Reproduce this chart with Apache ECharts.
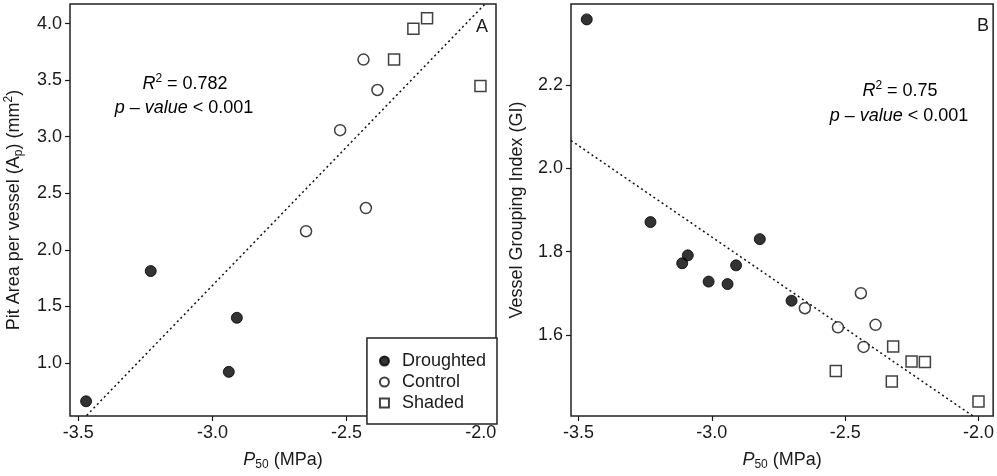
<!DOCTYPE html>
<html>
<head>
<meta charset="utf-8">
<script src="https://cdn.jsdelivr.net/npm/echarts@6/dist/echarts.min.js"></script>
<style>
  html, body { margin: 0; padding: 0; background: #fff; }
  #chartMain { width: 997px; height: 476px; }
</style>
</head>
<body>
<div id="chartMain"></div>
<script>
// 刻度
var xTicks = [-3.5, -3.0, -2.5, -2.0];
var yTicksA = [1.0, 1.5, 2.0, 2.5, 3.0, 3.5, 4.0];
var yTicksB = [1.6, 1.8, 2.0, 2.2];

// A: P50 vs 纹孔面积
var droughtA = [[-3.471, 0.662], [-3.230, 1.813], [-2.909, 1.400], [-2.939, 0.922]];
var controlA = [[-2.651, 2.165], [-2.524, 3.058], [-2.437, 3.682], [-2.385, 3.413], [-2.428, 2.370]];
var shadedA = [[-2.323, 3.682], [-2.251, 3.955], [-2.200, 4.046], [-2.001, 3.448]];
var fitA = [[-3.469, 0.537], [-1.984, 4.173]];

// B: P50 vs 导管聚合指数
var droughtB = [[-3.469, 2.358], [-3.230, 1.871], [-2.820, 1.830], [-3.090, 1.791], [-3.111, 1.772],
                [-2.909, 1.767], [-3.012, 1.728], [-2.941, 1.722], [-2.701, 1.682]];
var controlB = [[-2.651, 1.664], [-2.441, 1.700], [-2.527, 1.618], [-2.386, 1.624], [-2.431, 1.571]];
var shadedB = [[-2.320, 1.572], [-2.535, 1.513], [-2.251, 1.536], [-2.201, 1.535], [-2.325, 1.488], [-2.000, 1.440]];
var fitB = [[-3.528, 2.067], [-2.021, 1.405]];

var FONT = '"Liberation Sans", Arial, sans-serif';
var INK = '#1a1a1a';

var rich = {
  i: { fontStyle: 'italic', fontSize: 18, fontFamily: FONT, color: INK, lineHeight: 22 },
  sub: { fontSize: 12, fontFamily: FONT, color: INK, verticalAlign: 'bottom', lineHeight: 12 },
  sup: { fontSize: 12, fontFamily: FONT, color: INK, verticalAlign: 'top', lineHeight: 12 },
  n: { fontSize: 18, fontFamily: FONT, color: INK, lineHeight: 22 }
};

function fmt(v) { return v.toFixed(1); }

function xAxisOf(idx, min, max) {
  return {
    gridIndex: idx, type: 'value', min: min, max: max,
    name: '{i|P}{sub|50}{n| (MPa)}', nameLocation: 'middle', nameGap: 33,
    nameTextStyle: { rich: rich },
    axisLine: { show: false },
    axisTick: { show: true, length: 5, customValues: xTicks, lineStyle: { color: INK, width: 1.2 } },
    axisLabel: { customValues: xTicks, formatter: fmt, fontSize: 18, fontFamily: FONT, color: INK, margin: 8 },
    splitLine: { show: false }
  };
}

function yAxisOf(idx, min, max, ticks, name, gap) {
  return {
    gridIndex: idx, type: 'value', min: min, max: max,
    name: name, nameLocation: 'middle', nameGap: gap, nameRotate: 90,
    nameTextStyle: { rich: rich },
    axisLine: { show: false },
    axisTick: { show: true, length: 5, customValues: ticks, lineStyle: { color: INK, width: 1.2 } },
    axisLabel: { customValues: ticks, formatter: fmt, fontSize: 18, fontFamily: FONT, color: INK, margin: 8 },
    splitLine: { show: false }
  };
}

var filled = { color: '#000', borderColor: '#000', borderWidth: 1 };
var hollow = { color: '#fff', borderColor: '#111', borderWidth: 1.5 };

function pts(name, data, idx, symbol, style) {
  return {
    name: name, type: 'scatter', xAxisIndex: idx, yAxisIndex: idx,
    symbol: symbol, symbolSize: 11,
    itemStyle: style, data: data, z: 3
  };
}

function fitLine(data, idx) {
  return {
    name: 'fit' + idx, type: 'line', xAxisIndex: idx, yAxisIndex: idx,
    data: data, symbol: 'none', silent: true, z: 2,
    lineStyle: { color: '#111', width: 1.5, type: [2, 3] }
  };
}

var myChart = echarts.init(document.getElementById('chartMain'));

var option = {
  backgroundColor: '#fff',
  animation: false,
  grid: [
    { left: 70, top: 4, width: 426, height: 420, show: true, borderColor: '#222', borderWidth: 1.5, backgroundColor: 'transparent' },
    { left: 571, top: 4, width: 425, height: 420, show: true, borderColor: '#222', borderWidth: 1.5, backgroundColor: 'transparent' }
  ],
  xAxis: [xAxisOf(0, -3.531, -1.943), xAxisOf(1, -3.528, -1.945)],
  yAxis: [
    yAxisOf(0, 0.532, 4.173, yTicksA, '{n|Pit Area per vessel (A}{sub|p}{n|) (mm}{sup|2}{n|)}', 45),
    yAxisOf(1, 1.405, 2.395, yTicksB, '{n|Vessel Grouping Index (GI)}', 43)
  ],
  legend: {
    data: ['Droughted', 'Control', 'Shaded'],
    orient: 'vertical', right: 500, bottom: 52,
    padding: [14, 11, 12, 12], itemGap: 3, itemWidth: 9, itemHeight: 9,
    borderColor: '#222', borderWidth: 1.5, backgroundColor: '#fff',
    textStyle: { fontSize: 18, fontFamily: FONT, color: INK, padding: [0, 0, 0, 8] },
    z: 5
  },
  graphic: [
    { type: 'text', x: 185, y: 84, style: { text: '{i|R}{sup|2}{n| = 0.782}', rich: rich, align: 'center', verticalAlign: 'middle' } },
    { type: 'text', x: 184, y: 108, style: { text: '{i|p}{n| – }{i|value}{n| < 0.001}', rich: rich, align: 'center', verticalAlign: 'middle' } },
    { type: 'text', x: 900, y: 91, style: { text: '{i|R}{sup|2}{n| = 0.75}', rich: rich, align: 'center', verticalAlign: 'middle' } },
    { type: 'text', x: 899, y: 116, style: { text: '{i|p}{n| – }{i|value}{n| < 0.001}', rich: rich, align: 'center', verticalAlign: 'middle' } },
    { type: 'text', x: 482, y: 27, style: { text: 'A', fill: INK, font: '18px ' + FONT, align: 'center', verticalAlign: 'middle' } },
    { type: 'text', x: 983, y: 26, style: { text: 'B', fill: INK, font: '18px ' + FONT, align: 'center', verticalAlign: 'middle' } }
  ],
  series: [
    fitLine(fitA, 0),
    pts('Droughted', droughtA, 0, 'circle', filled),
    pts('Control', controlA, 0, 'circle', hollow),
    pts('Shaded', shadedA, 0, 'rect', hollow),
    fitLine(fitB, 1),
    pts('Droughted', droughtB, 1, 'circle', filled),
    pts('Control', controlB, 1, 'circle', hollow),
    pts('Shaded', shadedB, 1, 'rect', hollow)
  ]
};

myChart.setOption(option);
</script>
</body>
</html>
